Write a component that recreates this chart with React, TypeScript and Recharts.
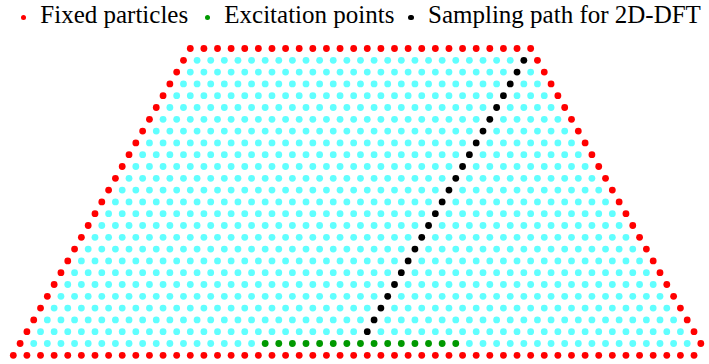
import { ScatterChart, Scatter, XAxis, YAxis } from "recharts";

// lattice rows, bottom (0) to top (26): first and last particle position (lattice units)
const rowStart = [
  0, 0.5, 1, 1.5, 2, 2.5, 3, 3.5, 4, 4.5, 5, 5.5, 6, 6.5, 7, 7.5, 8, 8.5, 9,
  9.5, 10, 10.5, 11, 11.5, 12, 12.5, 13,
];
const rowEnd = [
  50, 50.5, 50, 49.5, 49, 48.5, 48, 47.5, 47, 46.5, 46, 45.5, 45, 44.5, 44,
  43.5, 43, 42.5, 42, 41.5, 41, 40.5, 40, 39.5, 39, 38.5, 38,
];

// excitation points sit on row 1
const excitationRow = 1;
const excitationX = [
  18.5, 19.5, 20.5, 21.5, 22.5, 23.5, 24.5, 25.5, 26.5, 27.5, 28.5, 29.5, 30.5,
  31.5, 32.5,
];

// sampling path: one point per row
const pathRows = [
  2, 3, 4, 5, 6, 7, 8, 9, 10, 11, 12, 13, 14, 15, 16, 17, 18, 19, 20, 21, 22,
  23, 24, 25,
];
const pathX = [
  26, 26.5, 27, 27.5, 28, 28.5, 29, 29.5, 30, 30.5, 31, 31.5, 32, 32.5, 33,
  33.5, 34, 34.5, 35, 35.5, 36, 36.5, 37, 37.5,
];

type Pt = { x: number; y: number };

const fixed: Pt[] = [];
const excitation: Pt[] = [];
const sampling: Pt[] = [];
const free: Pt[] = [];

const lastRow = rowStart.length - 1;
rowStart.forEach((start, k) => {
  for (let x = start; x <= rowEnd[k] + 1e-9; x += 1) {
    const p = { x, y: k };
    if (k === 0 || k === lastRow || x === start || x === rowEnd[k]) {
      fixed.push(p);
    } else if (k === excitationRow && excitationX.includes(x)) {
      excitation.push(p);
    } else if (pathRows.some((r, i) => r === k && pathX[i] === x)) {
      sampling.push(p);
    } else {
      free.push(p);
    }
  }
});

const dot = (color: string) => (props: any) =>
  <circle cx={props.cx} cy={props.cy} r={3.4} fill={color} />;

const legendItems = [
  { label: "Fixed particles", color: "#ff0000", x: 23.3 },
  { label: "Excitation points", color: "#009900", x: 207.3 },
  { label: "Sampling path for 2D-DFT", color: "#000000", x: 411 },
];

export default function App() {
  return (
    <div
      style={{
        position: "absolute",
        left: 0,
        top: 0,
        width: 709,
        height: 364,
        background: "#fff",
      }}
    >
      <ScatterChart
        width={709}
        height={364}
        margin={{ top: 0, right: 0, bottom: 0, left: 0 }}
      >
        <XAxis
          type="number"
          dataKey="x"
          domain={[-0.977, 51.1]}
          allowDataOverflow
          hide
        />
        <YAxis
          type="number"
          dataKey="y"
          domain={[-0.737, 30.11]}
          allowDataOverflow
          hide
        />
        <Scatter data={free} shape={dot("#60ffff")} isAnimationActive={false} />
        <Scatter data={fixed} shape={dot("#ff0000")} isAnimationActive={false} />
        <Scatter
          data={excitation}
          shape={dot("#009900")}
          isAnimationActive={false}
        />
        <Scatter
          data={sampling}
          shape={dot("#000000")}
          isAnimationActive={false}
        />
      </ScatterChart>

      {legendItems.map((it) => (
        <div key={it.label}>
          <div
            style={{
              position: "absolute",
              left: it.x - 2.6,
              top: 14.7,
              width: 5.2,
              height: 5.2,
              borderRadius: "50%",
              background: it.color,
            }}
          />
          <div
            style={{
              position: "absolute",
              left: it.x + 17,
              top: 1,
              fontFamily: "'Liberation Serif'",
              fontSize: 25,
              lineHeight: "28px",
              whiteSpace: "nowrap",
              color: "#000",
            }}
          >
            {it.label}
          </div>
        </div>
      ))}
    </div>
  );
}
